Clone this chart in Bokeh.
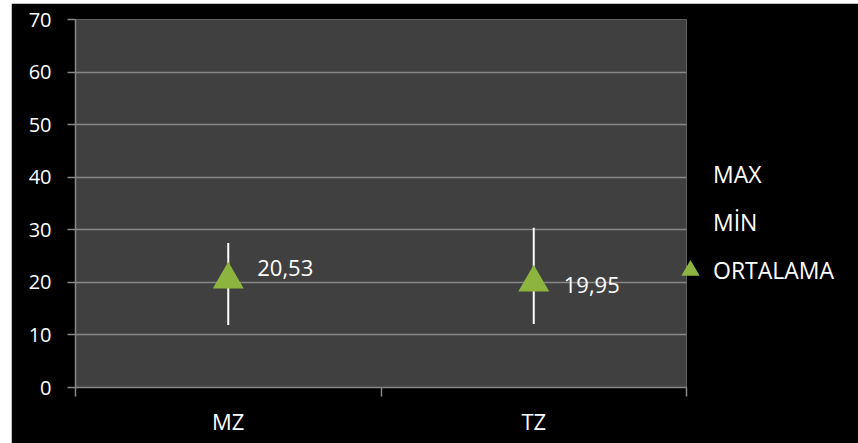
from bokeh.plotting import figure
from bokeh.models import (Range1d, FixedTicker, ColumnDataSource, Legend, LegendItem)
from bokeh.core.properties import value
from bokeh.embed import file_html
from bokeh.resources import INLINE

# ---- data ----
categories = ["MZ", "TZ"]
max_values = [27.5, 30.4]
min_values = [11.9, 12.1]
mean_values = [20.53, 19.95]
mean_labels = ["20,53", "19,95"]
y_ticks = [0, 10, 20, 30, 40, 50, 60, 70]
legend_labels = ["MAX", "MİN", "ORTALAMA"]

# category slots on the x scale: each category occupies one unit, centred in it
x_pos = [i + 0.5 for i in range(len(categories))]
x_bounds = list(range(len(categories) + 1))

# label offsets (style)
label_dx = [29, 30]
label_dy = [-12, 2]

FONT = "Open Sans"
GRID = "#878787"
GREEN = "#8CB43F"

p = figure(x_range=Range1d(0, len(categories)), y_range=Range1d(0, 70),
           frame_width=611, frame_height=368,
           min_border_left=64, min_border_right=172, min_border_top=16, min_border_bottom=56,
           output_backend="svg", toolbar_location=None,
           background_fill_color="#404040", border_fill_color="black",
           outline_line_color=None, margin=(3, 0, 0, 11))

# y axis
ya = p.yaxis[0]
ya.ticker = FixedTicker(ticks=y_ticks)
ya.axis_line_color = GRID
ya.axis_line_width = 1.5
ya.major_tick_line_color = GRID
ya.major_tick_line_width = 1.5
ya.major_tick_in = 0
ya.major_tick_out = 8
ya.minor_tick_line_color = None
ya.major_label_text_color = "white"
ya.major_label_text_font = FONT
ya.major_label_text_font_size = "20px"
ya.major_label_standoff = 16

p.xgrid.grid_line_color = None
p.ygrid.grid_line_color = GRID
p.ygrid.grid_line_width = 1.5
p.ygrid.ticker = FixedTicker(ticks=y_ticks)

# x axis: labels at category centres, tick marks at category boundaries
xa = p.xaxis[0]
xa.ticker = FixedTicker(ticks=x_pos, minor_ticks=x_bounds)
xa.major_label_overrides = {x: c for x, c in zip(x_pos, categories)}
xa.axis_line_color = GRID
xa.axis_line_width = 1.5
xa.major_tick_line_color = None
xa.major_tick_in = 0
xa.major_tick_out = 9
xa.minor_tick_line_color = GRID
xa.minor_tick_line_width = 1.5
xa.minor_tick_in = 0
xa.minor_tick_out = 9
xa.major_label_text_color = "white"
xa.major_label_text_font = FONT
xa.major_label_text_font_size = "22px"
xa.major_label_standoff = 9

src = ColumnDataSource(dict(x=x_pos, mx=max_values, mn=min_values,
                            mean=mean_values, lab=mean_labels))

p.segment(x0="x", y0="mn", x1="x", y1="mx", source=src,
          line_color="white", line_width=2)

r_max = p.scatter(x="x", y="mx", source=src, size=0, alpha=0)
r_min = p.scatter(x="x", y="mn", source=src, size=0, alpha=0)
r_mean = p.scatter(x="x", y="mean", source=src, marker="triangle", size=31,
                   fill_color=GREEN, line_color=None)

for i in range(len(categories)):
    s = ColumnDataSource(dict(x=[x_pos[i]], mean=[mean_values[i]], lab=[mean_labels[i]]))
    p.text(x="x", y="mean", text="lab", source=s, x_offset=label_dx[i], y_offset=label_dy[i],
           text_color="white", text_font=value(FONT), text_font_size="22px",
           text_align="left", text_baseline="middle")

legend = Legend(items=[LegendItem(label=legend_labels[0], renderers=[r_max]),
                       LegendItem(label=legend_labels[1], renderers=[r_min]),
                       LegendItem(label=legend_labels[2], renderers=[r_mean])],
                location=(-19, 93), orientation="vertical",
                glyph_width=46, glyph_height=48, label_height=48, spacing=0,
                label_standoff=0, padding=0, margin=0,
                background_fill_alpha=0, border_line_color=None,
                label_text_color="white", label_text_font=FONT, label_text_font_size="23px")
p.add_layout(legend, "right")

open("out.html", "w").write(file_html(p, INLINE))
